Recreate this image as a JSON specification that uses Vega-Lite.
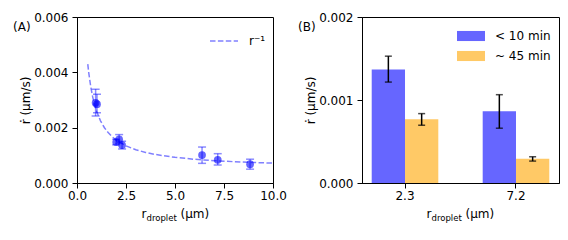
{
  "$schema": "https://vega.github.io/schema/vega-lite/v6.json",
  "padding": {"left": 12, "top": 10, "right": 5, "bottom": 5},
  "spacing": 10,
  "background": "white",
  "config": {
    "font": "DejaVu Sans",
    "view": {"stroke": "black", "strokeWidth": 1},
    "axis": {"grid": false, "domainColor": "black", "tickColor": "black", "labelColor": "black", "titleColor": "black", "labelFont": "DejaVu Sans", "labelFontSize": 12, "titleFont": "DejaVu Sans", "titleFontSize": 12, "titleFontWeight": "normal", "tickSize": 5, "labelFlush": false},
    "legend": {"labelFont": "DejaVu Sans", "labelFontSize": 12, "labelColor": "black"},
    "title": {"font": "DejaVu Sans", "fontSize": 12, "fontWeight": "normal", "color": "black"}
  },
  "datasets": {
    "curveA": [
      {"x": 0.55, "y": 0.004297, "fit": "r⁻¹"},
      {"x": 0.6, "y": 0.003982, "fit": "r⁻¹"},
      {"x": 0.7, "y": 0.003486, "fit": "r⁻¹"},
      {"x": 0.8, "y": 0.003114, "fit": "r⁻¹"},
      {"x": 0.9, "y": 0.002824, "fit": "r⁻¹"},
      {"x": 1.0, "y": 0.002593, "fit": "r⁻¹"},
      {"x": 1.2, "y": 0.002246, "fit": "r⁻¹"},
      {"x": 1.4, "y": 0.001998, "fit": "r⁻¹"},
      {"x": 1.6, "y": 0.001812, "fit": "r⁻¹"},
      {"x": 1.8, "y": 0.001667, "fit": "r⁻¹"},
      {"x": 2.0, "y": 0.001552, "fit": "r⁻¹"},
      {"x": 2.5, "y": 0.001343, "fit": "r⁻¹"},
      {"x": 3.0, "y": 0.001204, "fit": "r⁻¹"},
      {"x": 3.5, "y": 0.001105, "fit": "r⁻¹"},
      {"x": 4.0, "y": 0.001031, "fit": "r⁻¹"},
      {"x": 5.0, "y": 0.000927, "fit": "r⁻¹"},
      {"x": 6.0, "y": 0.000857, "fit": "r⁻¹"},
      {"x": 7.0, "y": 0.000808, "fit": "r⁻¹"},
      {"x": 8.0, "y": 0.00077, "fit": "r⁻¹"},
      {"x": 9.0, "y": 0.000741, "fit": "r⁻¹"},
      {"x": 10.0, "y": 0.000718, "fit": "r⁻¹"}
    ],
    "pointsA": [
      {"x": 0.95, "y": 0.0029, "lo": 0.00242, "hi": 0.00339},
      {"x": 1.02, "y": 0.00285, "lo": 0.00254, "hi": 0.00321},
      {"x": 2.0, "y": 0.00148, "lo": 0.00138, "hi": 0.00158},
      {"x": 2.15, "y": 0.00158, "lo": 0.00143, "hi": 0.00175},
      {"x": 2.3, "y": 0.00137, "lo": 0.00123, "hi": 0.00151},
      {"x": 6.38, "y": 0.00101, "lo": 0.00071, "hi": 0.0013},
      {"x": 7.18, "y": 0.00084, "lo": 0.00065, "hi": 0.00106},
      {"x": 8.83, "y": 0.00068, "lo": 0.0005, "hi": 0.00086}
    ],
    "barsB": [
      {"r": "2.3", "time": "< 10 min", "v": 0.001368, "lo": 0.001216, "hi": 0.001528},
      {"r": "2.3", "time": "~ 45 min", "v": 0.000768, "lo": 0.000696, "hi": 0.000836},
      {"r": "7.2", "time": "< 10 min", "v": 0.000864, "lo": 0.00066, "hi": 0.001064},
      {"r": "7.2", "time": "~ 45 min", "v": 0.000292, "lo": 0.000264, "hi": 0.000316}
    ]
  },
  "hconcat": [
    {
      "width": 196,
      "height": 166,
      "title": {"text": "(A)", "anchor": "start", "frame": "group", "dx": -64, "offset": -32, "baseline": "alphabetic"},
      "resolve": {"axis": {"x": "independent"}},
      "layer": [
        {
          "data": {"name": "curveA"},
          "mark": {"type": "line", "stroke": "#8080ff", "strokeWidth": 1.5},
          "encoding": {
            "x": {"field": "x", "type": "quantitative", "scale": {"domain": [0, 10], "nice": false},
              "axis": {"values": [0, 2.5, 5, 7.5, 10], "format": ".1f", "labelPadding": 2, "title": "r", "titleX": 64, "titleY": 34, "titleAlign": "left", "titleBaseline": "alphabetic"}},
            "y": {"field": "y", "type": "quantitative", "scale": {"domain": [0, 0.006], "nice": false},
              "axis": {"values": [0, 0.002, 0.004, 0.006], "format": ".3f", "labelPadding": 4, "title": "ṙ (μm/s)", "titleX": -52, "titleY": 83, "titleAngle": -90, "titleAlign": "center", "titleBaseline": "middle"}},
            "strokeDash": {"field": "fit", "type": "nominal", "scale": {"range": [[5.5, 2.4]]},
              "legend": {"orient": "none", "legendX": 132, "legendY": 9, "title": null, "symbolType": "stroke", "symbolSize": 784, "symbolStrokeWidth": 1.5, "symbolStrokeColor": "#8080ff", "labelOffset": 10, "padding": 0}}
          }
        },
        {
          "data": {"name": "pointsA"},
          "mark": {"type": "rule", "color": "#0000ff", "opacity": 0.45, "strokeWidth": 1.5},
          "encoding": {
            "x": {"field": "x", "type": "quantitative",
              "axis": {"title": "droplet", "orient": "bottom", "labels": false, "ticks": false, "domain": false, "titleX": 69, "titleY": 37.5, "titleAlign": "left", "titleBaseline": "alphabetic", "titleFontSize": 8.5}},
            "y": {"field": "lo", "type": "quantitative",
              "axis": {"values": [0, 0.002, 0.004, 0.006], "format": ".3f", "labelPadding": 4, "title": "ṙ (μm/s)", "titleX": -52, "titleY": 83, "titleAngle": -90, "titleAlign": "center", "titleBaseline": "middle"}},
            "y2": {"field": "hi"}
          }
        },
        {
          "data": {"name": "pointsA"},
          "mark": {"type": "tick", "orient": "horizontal", "size": 8, "thickness": 1.5, "color": "#0000ff", "opacity": 0.45},
          "encoding": {
            "x": {"field": "x", "type": "quantitative",
              "axis": {"title": "(μm)", "orient": "bottom", "labels": false, "ticks": false, "domain": false, "titleX": 103, "titleY": 34, "titleAlign": "left", "titleBaseline": "alphabetic"}},
            "y": {"field": "lo", "type": "quantitative",
              "axis": {"values": [0, 0.002, 0.004, 0.006], "format": ".3f", "labelPadding": 4, "title": "ṙ (μm/s)", "titleX": -52, "titleY": 83, "titleAngle": -90, "titleAlign": "center", "titleBaseline": "middle"}}
          }
        },
        {
          "data": {"name": "pointsA"},
          "mark": {"type": "tick", "orient": "horizontal", "size": 8, "thickness": 1.5, "color": "#0000ff", "opacity": 0.45},
          "encoding": {
            "x": {"field": "x", "type": "quantitative", "axis": null},
            "y": {"field": "hi", "type": "quantitative",
              "axis": {"values": [0, 0.002, 0.004, 0.006], "format": ".3f", "labelPadding": 4, "title": "ṙ (μm/s)", "titleX": -52, "titleY": 83, "titleAngle": -90, "titleAlign": "center", "titleBaseline": "middle"}}
          }
        },
        {
          "data": {"name": "pointsA"},
          "mark": {"type": "circle", "size": 60, "color": "#0000ff", "opacity": 0.6},
          "encoding": {
            "x": {"field": "x", "type": "quantitative", "axis": null},
            "y": {"field": "y", "type": "quantitative",
              "axis": {"values": [0, 0.002, 0.004, 0.006], "format": ".3f", "labelPadding": 4, "title": "ṙ (μm/s)", "titleX": -52, "titleY": 83, "titleAngle": -90, "titleAlign": "center", "titleBaseline": "middle"}}
          }
        }
      ]
    },
    {
      "width": 197,
      "height": 166,
      "title": {"text": "(B)", "anchor": "start", "frame": "group", "dx": -64, "offset": -32, "baseline": "alphabetic"},
      "data": {"name": "barsB"},
      "resolve": {"axis": {"x": "independent"}},
      "layer": [
        {
          "mark": {"type": "bar"},
          "encoding": {
            "x": {"field": "r", "type": "nominal", "scale": {"paddingInner": 0.4, "paddingOuter": 0.0875},
              "axis": {"labelAngle": 0, "labelPadding": 2, "title": "r", "titleX": 64, "titleY": 34, "titleAlign": "left", "titleBaseline": "alphabetic"}},
            "xOffset": {"field": "time", "type": "nominal", "scale": {"paddingInner": 0, "paddingOuter": 0}},
            "y": {"field": "v", "type": "quantitative", "scale": {"domain": [0, 0.002], "nice": false},
              "axis": {"values": [0, 0.001, 0.002], "format": ".3f", "labelPadding": 4, "title": "ṙ (μm/s)", "titleX": -52, "titleY": 83, "titleAngle": -90, "titleAlign": "center", "titleBaseline": "middle"}},
            "color": {"field": "time", "type": "nominal", "scale": {"domain": ["< 10 min", "~ 45 min"], "range": ["#6666ff", "#ffc966"]},
              "legend": {"orient": "none", "legendX": 380, "legendY": 5, "title": null, "symbolType": "M-1,-0.36H1V0.36H-1Z", "symbolSize": 784, "symbolStrokeWidth": 0, "symbolOpacity": 1, "labelOffset": 10, "padding": 0, "rowPadding": 0}}
          }
        },
        {
          "mark": {"type": "rule", "color": "black", "strokeWidth": 1.5},
          "encoding": {
            "x": {"field": "r", "type": "nominal",
              "axis": {"title": "droplet", "orient": "bottom", "labels": false, "ticks": false, "domain": false, "titleX": 69, "titleY": 37.5, "titleAlign": "left", "titleBaseline": "alphabetic", "titleFontSize": 8.5}},
            "xOffset": {"field": "time", "type": "nominal"},
            "y": {"field": "lo", "type": "quantitative",
              "axis": {"values": [0, 0.001, 0.002], "format": ".3f", "labelPadding": 4, "title": "ṙ (μm/s)", "titleX": -52, "titleY": 83, "titleAngle": -90, "titleAlign": "center", "titleBaseline": "middle"}},
            "y2": {"field": "hi"}
          }
        },
        {
          "mark": {"type": "tick", "orient": "horizontal", "size": 7, "thickness": 1.5, "color": "black"},
          "encoding": {
            "x": {"field": "r", "type": "nominal",
              "axis": {"title": "(μm)", "orient": "bottom", "labels": false, "ticks": false, "domain": false, "titleX": 103, "titleY": 34, "titleAlign": "left", "titleBaseline": "alphabetic"}},
            "xOffset": {"field": "time", "type": "nominal"},
            "y": {"field": "lo", "type": "quantitative",
              "axis": {"values": [0, 0.001, 0.002], "format": ".3f", "labelPadding": 4, "title": "ṙ (μm/s)", "titleX": -52, "titleY": 83, "titleAngle": -90, "titleAlign": "center", "titleBaseline": "middle"}}
          }
        },
        {
          "mark": {"type": "tick", "orient": "horizontal", "size": 7, "thickness": 1.5, "color": "black"},
          "encoding": {
            "x": {"field": "r", "type": "nominal", "axis": null},
            "xOffset": {"field": "time", "type": "nominal"},
            "y": {"field": "hi", "type": "quantitative",
              "axis": {"values": [0, 0.001, 0.002], "format": ".3f", "labelPadding": 4, "title": "ṙ (μm/s)", "titleX": -52, "titleY": 83, "titleAngle": -90, "titleAlign": "center", "titleBaseline": "middle"}}
          }
        }
      ]
    }
  ]
}
